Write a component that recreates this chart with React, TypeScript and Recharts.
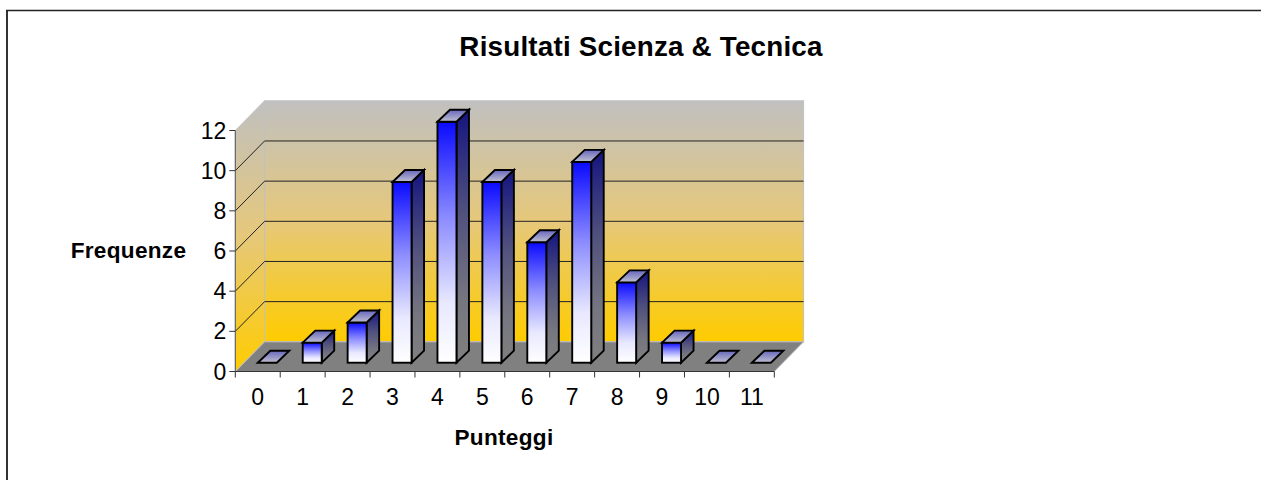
import { BarChart, Bar, XAxis, YAxis, CartesianGrid } from 'recharts';

const punteggi = ['0', '1', '2', '3', '4', '5', '6', '7', '8', '9', '10', '11'];
const frequenze = [0, 1, 2, 9, 12, 9, 6, 10, 4, 1, 0, 0];
const yTicks = [0, 2, 4, 6, 8, 10, 12];

const rows = punteggi.map((p, i) => ({ punteggio: p, frequenza: frequenze[i] }));

const FONT = '"Liberation Sans", Arial, sans-serif';

// plot area (front plane of the fake 3D box)
const LEFT = 235.3;
const RIGHT = 774.3;
const TOP = 130.5;
const BOTTOM = 371.5;
const BAND = (RIGHT - LEFT) / punteggi.length;

// how far the back wall is pushed
const WALL_DX = 29.3;
const WALL_DY = -29.7;

// bar offset into the floor and bar depth
const BAR_DX = 9.5;
const BAR_DY = -8.8;
const DEPTH_X = 12.5;
const DEPTH_Y = -12;

const pts = (list: number[][]) => list.map((p) => p.join(',')).join(' ');

// walls, floor, frame and all the titles: a plain svg under the chart
const Backdrop = () => {
  const wallLeft = LEFT + WALL_DX;
  const wallRight = RIGHT + WALL_DX;
  const wallTop = TOP + WALL_DY;
  const wallBottom = BOTTOM + WALL_DY;
  return (
    <svg width={1261} height={480} style={{ position: 'absolute', left: 0, top: 0 }}>
      <defs>
        <linearGradient id="wall" x1="0" y1="0" x2="0" y2="1">
          <stop offset="0%" stopColor="#C0C0C0" />
          <stop offset="50%" stopColor="#E6C87A" />
          <stop offset="100%" stopColor="#FFCC00" />
        </linearGradient>
        <linearGradient id="front" x1="0" y1="0" x2="0" y2="1">
          <stop offset="0%" stopColor="#0A0AFF" />
          <stop offset="40%" stopColor="#8C8CFF" />
          <stop offset="75%" stopColor="#E8E8FF" />
          <stop offset="100%" stopColor="#FFFFFF" />
        </linearGradient>
        <linearGradient id="side" x1="0" y1="0" x2="0" y2="1">
          <stop offset="0%" stopColor="#141480" />
          <stop offset="40%" stopColor="#50507E" />
          <stop offset="75%" stopColor="#767680" />
          <stop offset="100%" stopColor="#808080" />
        </linearGradient>
        <linearGradient id="top" x1="0" y1="0" x2="0" y2="1">
          <stop offset="0%" stopColor="#6666BE" />
          <stop offset="100%" stopColor="#C0C0D0" />
        </linearGradient>
      </defs>
      <line x1={7} y1={10.5} x2={7} y2={480} stroke="#333" strokeWidth={2} />
      <line x1={6} y1={10.5} x2={1261} y2={10.5} stroke="#222" strokeWidth={1.5} />
      <polygon
        points={pts([[LEFT, TOP], [wallLeft, wallTop], [wallLeft, wallBottom], [LEFT, BOTTOM]])}
        fill="url(#wall)"
        stroke="#C0C0C0"
      />
      <rect x={wallLeft} y={wallTop} width={wallRight - wallLeft} height={wallBottom - wallTop} fill="url(#wall)" stroke="#C0C0C0" />
      <polygon
        points={pts([[LEFT, BOTTOM], [wallLeft, wallBottom], [wallRight, wallBottom], [RIGHT, BOTTOM]])}
        fill="#808080"
        stroke="#C0C0C0"
      />
      <text x={641} y={56} textAnchor="middle" fontFamily={FONT} fontWeight="bold" fontSize={27.8} letterSpacing={0.2} fill="#000">
        Risultati Scienza &amp; Tecnica
      </text>
      <text x={128.5} y={258} textAnchor="middle" fontFamily={FONT} fontWeight="bold" fontSize={22.6} letterSpacing={0.3} fill="#000">
        Frequenze
      </text>
      <text x={504} y={445} textAnchor="middle" fontFamily={FONT} fontWeight="bold" fontSize={22.6} letterSpacing={0.3} fill="#000">
        Punteggi
      </text>
    </svg>
  );
};

const WallLine = (props: any) => {
  const { x1, y1, x2, y2, index } = props;
  if (Math.abs(y1 - TOP) < 1 || Math.abs(y1 - BOTTOM) < 1) return <g key={`g-${index}`} />;
  return (
    <g key={`g-${index}`}>
      <line x1={x1} y1={y1} x2={x1 + WALL_DX} y2={y1 + WALL_DY} stroke="#222" strokeWidth={1} />
      <line x1={x1 + WALL_DX} y1={y1 + WALL_DY} x2={x2 + WALL_DX} y2={y2 + WALL_DY} stroke="#222" strokeWidth={1} />
    </g>
  );
};

const Bar3D = (props: any) => {
  const { x, y, width, height } = props;
  const l = x + BAR_DX;
  const r = l + width;
  const t = y + BAR_DY;
  const b = t + height;
  const line = { stroke: '#000', strokeWidth: 1.9, strokeLinejoin: 'miter' as const };
  return (
    <g>
      {height > 0 && (
        <>
          <polygon points={pts([[r, t], [r + DEPTH_X, t + DEPTH_Y], [r + DEPTH_X, b + DEPTH_Y], [r, b]])} fill="url(#side)" {...line} />
          <rect x={l} y={t} width={width} height={height} fill="url(#front)" {...line} />
        </>
      )}
      <polygon points={pts([[l, t], [l + DEPTH_X, t + DEPTH_Y], [r + DEPTH_X, t + DEPTH_Y], [r, t]])} fill="url(#top)" {...line} />
    </g>
  );
};

const XTick = (props: any) => {
  const { x, payload, index } = props;
  const isLast = index === punteggi.length - 1;
  return (
    <g>
      <line x1={x - BAND / 2} y1={BOTTOM} x2={x - BAND / 2} y2={BOTTOM + 6} stroke="#333" />
      {isLast && <line x1={x + BAND / 2} y1={BOTTOM} x2={x + BAND / 2} y2={BOTTOM + 6} stroke="#333" />}
      <text x={x} y={404.5} textAnchor="middle" fontFamily={FONT} fontSize={23} fill="#000">
        {payload.value}
      </text>
    </g>
  );
};

export default function App() {
  return (
    <div style={{ position: 'absolute', left: 0, top: 0, width: 1261, height: 480, overflow: 'hidden', background: '#fff' }}>
      <Backdrop />
      <BarChart
        width={1261}
        height={480}
        data={rows}
        barSize={19}
        margin={{ top: TOP, right: 1261 - RIGHT, bottom: 480 - BOTTOM - 30, left: LEFT - 60 }}
      >
        <CartesianGrid vertical={false} horizontal={WallLine as any} />
        <XAxis
          dataKey="punteggio"
          height={30}
          interval={0}
          tickLine={false}
          axisLine={{ stroke: '#333' }}
          tick={XTick as any}
        />
        <YAxis
          width={60}
          domain={[0, 12]}
          ticks={yTicks}
          interval={0}
          tickSize={6}
          tickMargin={3}
          axisLine={{ stroke: '#555' }}
          tickLine={{ stroke: '#333' }}
          tick={{ fontFamily: FONT, fontSize: 23, fill: '#000' }}
        />
        <Bar dataKey="frequenza" isAnimationActive={false} shape={Bar3D as any} />
      </BarChart>
    </div>
  );
}
